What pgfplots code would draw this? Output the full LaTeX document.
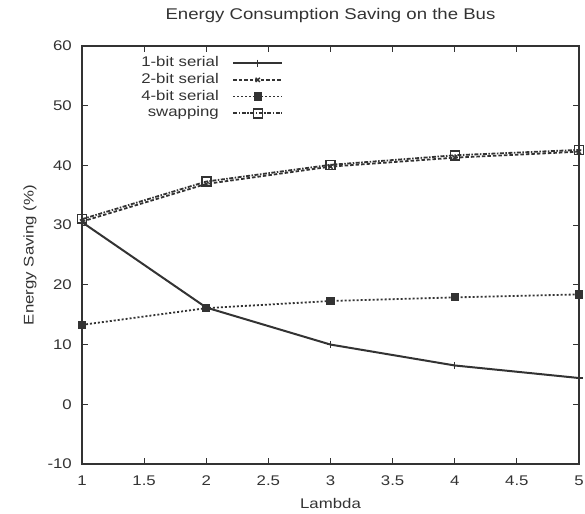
\documentclass[border=0pt]{standalone}
\usepackage{fontspec}
\setmainfont[FakeStretch=1.2]{Liberation Sans}
\usepackage{pgfplots}
\pgfplotsset{compat=1.18}

\definecolor{ink}{gray}{0.2}

\begin{document}
\fontsize{14}{16}\selectfont
\begin{tikzpicture}[x=1pt,y=1pt]
\useasboundingbox (-82,-49) rectangle (503,464);
\begin{axis}[
  at={(0,0)}, anchor=south west,
  scale only axis, width=497pt, height=418pt,
  xmin=1, xmax=5, ymin=-10, ymax=60,
  xtick={1,1.5,...,5}, ytick={-10,0,...,60},
  /pgf/number format/assume math mode=true,
  axis line style={line width=1.6pt, ink},
  every tick/.style={line width=1.2pt, ink},
  major tick length=6pt,
  tick label style={font=\fontsize{14}{16}\selectfont, text=ink},
  xticklabel style={anchor=base, inner sep=0pt, yshift=-21pt},
  yticklabel style={anchor=east, inner sep=0pt, xshift=-10pt},
  title={Energy Consumption Saving on the Bus},
  title style={anchor=base, at={(axis description cs:0.5,1)}, yshift=20pt, inner sep=0pt, text=ink,
    font=\fontsize{15.5}{17}\selectfont},
  xlabel={Lambda},
  xlabel style={anchor=base, at={(axis description cs:0.5,0)}, yshift=-44pt, inner sep=0pt, text=ink},
  ylabel={Energy Saving (\%)},
  ylabel style={anchor=center, at={(axis description cs:-0.1046,0.5)}, inner sep=0pt, text=ink},
  legend plot pos=right,
  legend cell align=right,
  legend style={draw=none, fill=none, inner sep=0pt,
    at={(axis description cs:0.4054,0.9785)}, anchor=north east,
    column sep=12pt, row sep=0.7pt,
    nodes={inner sep=1.5pt, text height=10pt, text depth=3pt, text=ink},
    font=\fontsize{14}{16}\selectfont},
  legend image code/.code={\draw[mark repeat=2, mark phase=2, #1]
    plot coordinates {(0pt,0pt) (24.5pt,0pt) (49pt,0pt)};},
]
% 1-bit serial
\addplot+[ink, line width=2pt, solid, mark=+, mark size=3.5pt, mark options={solid, line width=1.3pt}]
  coordinates {(1,30.5) (2,16.2) (3,10.0) (4,6.5) (5,4.4)};
\addlegendentry{1-bit serial}
% 2-bit serial
\addplot+[ink, line width=1.8pt, dash pattern=on 3.5pt off 2pt, mark=x, mark size=3pt, mark options={solid, line width=1.3pt}]
  coordinates {(1,30.6) (2,36.9) (3,39.8) (4,41.3) (5,42.3)};
\addlegendentry{2-bit serial}
% 4-bit serial
\addplot+[ink, line width=1.8pt, dash pattern=on 2pt off 2pt, mark=square*, mark size=3.2pt, mark options={solid, fill=ink}]
  coordinates {(1,13.3) (2,16.1) (3,17.3) (4,17.9) (5,18.4)};
\addlegendentry{4-bit serial}
% swapping
\addplot+[ink, line width=1.8pt, dash pattern=on 4pt off 1.5pt on 1.5pt off 1.5pt, mark=square, mark size=4.5pt, mark options={solid, line width=1.5pt, fill=none}]
  coordinates {(1,31.0) (2,37.3) (3,40.1) (4,41.7) (5,42.6)};
\addlegendentry{swapping}
\end{axis}
\end{tikzpicture}
\end{document}
